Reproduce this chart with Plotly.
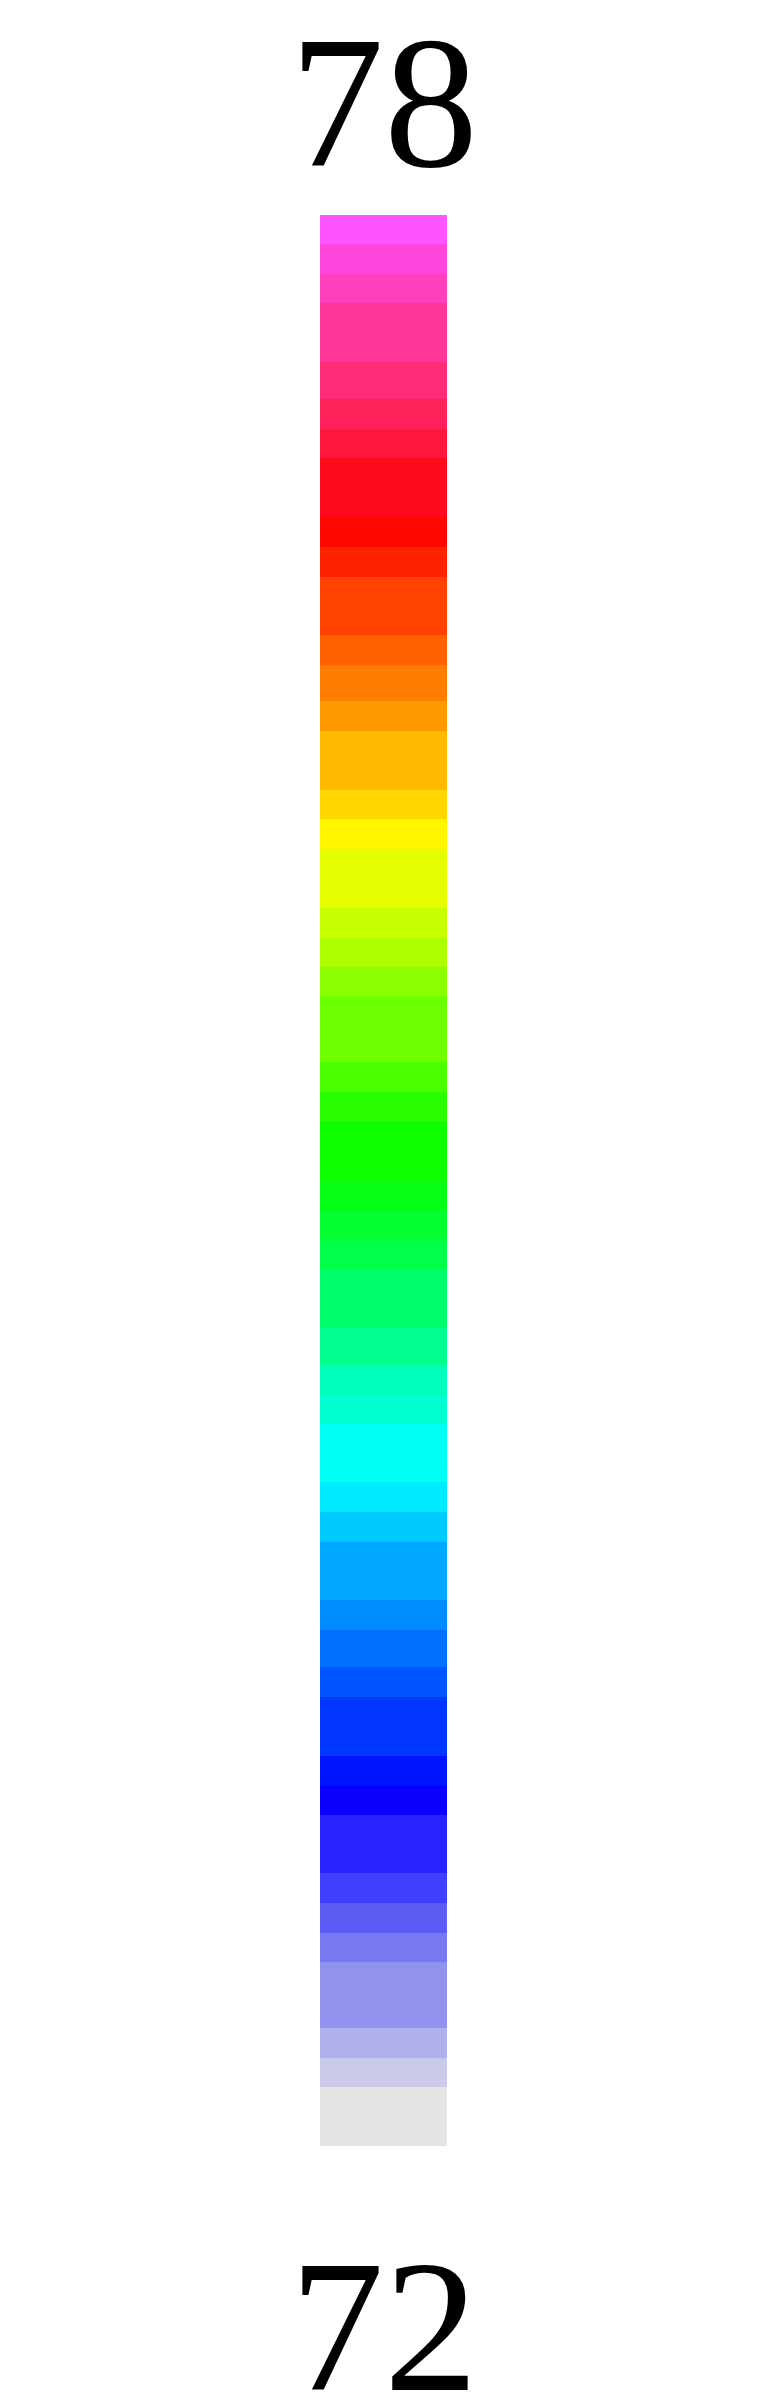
import plotly.graph_objects as go

# Band edges (value units), ascending from 72 to 78
edges = [72.000, 72.183, 72.275, 72.367, 72.572, 72.663, 72.754, 72.847, 73.030, 73.121,
         73.212, 73.394, 73.488, 73.603, 73.695, 73.878, 73.969, 74.062, 74.243, 74.335,
         74.427, 74.542, 74.724, 74.815, 74.908, 74.998, 75.184, 75.275, 75.367, 75.572,
         75.663, 75.755, 75.846, 76.030, 76.122, 76.213, 76.396, 76.490, 76.602, 76.695,
         76.876, 76.968, 77.061, 77.244, 77.335, 77.428, 77.542, 77.726, 77.818, 77.909,
         78.000]

# Band colours, bottom to top
colors = ["#e4e4e4", "#cbcbe9", "#b0b0ea", "#9391ee", "#7878f0", "#5c5cf5", "#4240ff", "#2822ff",
          "#0b00ff", "#0015ff", "#0036ff", "#0055ff", "#0070ff", "#008cff", "#00a9ff", "#00caff",
          "#00ebff", "#00fff5", "#00ffd2", "#00ffbb", "#00ff8e", "#00ff6b", "#00ff48", "#03ff2d",
          "#05ff12", "#0dff00", "#2aff00", "#4aff00", "#6bff00", "#8bff00", "#adff00", "#c7ff00",
          "#e5ff00", "#fff500", "#ffd700", "#ffba00", "#ff9900", "#ff7d00", "#ff6000", "#ff4200",
          "#ff2200", "#ff0800", "#ff0b1d", "#ff183c", "#ff2159", "#ff2b78", "#ff3598", "#ff40bd",
          "#ff47dd", "#ff54ff"]

tick_labels = ["72", "78"]
vmin, vmax = edges[0], edges[-1]

bases = edges[:-1]
heights = [edges[i + 1] - edges[i] for i in range(len(edges) - 1)]

fig = go.Figure(go.Bar(
    x=[0] * len(heights), y=heights, base=bases, width=1,
    marker=dict(color=colors, line=dict(width=0)),
    hoverinfo="skip", showlegend=False,
))

label_font = dict(family="Liberation Serif", size=188, color="black")
fig.add_annotation(text=tick_labels[1], xref="paper", yref="paper", x=0.5, y=1,
                   xanchor="center", yanchor="bottom", yshift=6, showarrow=False,
                   font=label_font)
fig.add_annotation(text=tick_labels[0], xref="paper", yref="paper", x=0.5, y=0,
                   xanchor="center", yanchor="top", yshift=-74, showarrow=False,
                   font=label_font)

# page body adds an 8px offset; margins compensate for it
fig.update_layout(
    width=766, height=2400,
    margin=dict(l=311.5, r=327, t=207, b=262.3, pad=0),
    paper_bgcolor="white", plot_bgcolor="white",
    xaxis=dict(range=[-0.5, 0.5], visible=False, fixedrange=True),
    yaxis=dict(range=[vmin, vmax], visible=False, fixedrange=True),
    bargap=0,
)

fig.write_html("out.html")
